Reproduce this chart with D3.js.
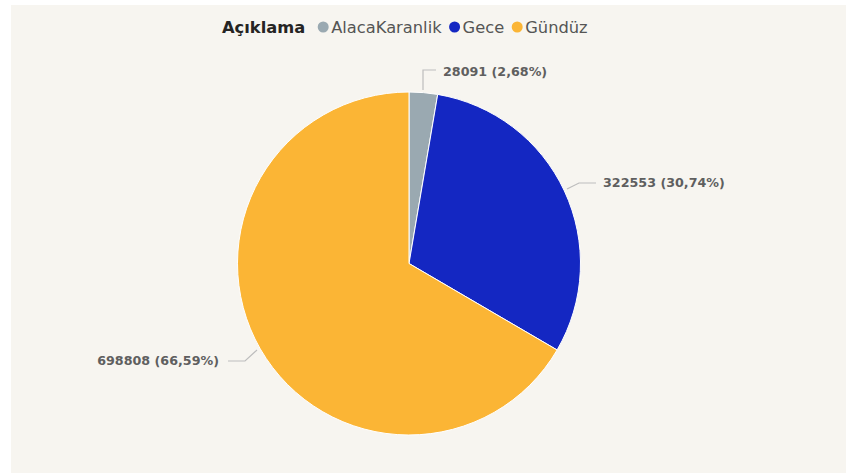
<!DOCTYPE html>
<html>
<head>
<meta charset="utf-8">
<script src="https://cdn.jsdelivr.net/npm/d3@7"></script>
<style>
  html, body { margin: 0; padding: 0; background: #ffffff; }
  svg { display: block; }
</style>
</head>
<body>
<svg id="chart" width="846" height="473"></svg>
<script>
// Data
const categories = ["AlacaKaranlik", "Gece", "Gündüz"];
const values = [28091, 322553, 698808];
const colors = ["#9aa9b1", "#1427c2", "#fbb535"];
const legendTitle = "Açıklama";

const W = 846, H = 473;
const svg = d3.select("#chart");
const font = "'DejaVu Sans', Verdana, sans-serif";

// panel background
svg.append("rect").attr("x", 11).attr("y", 5).attr("width", W - 11).attr("height", H - 5)
  .attr("fill", "#f7f5f0");

const cx = 409, cy = 263.5, r = 171.5;
const total = d3.sum(values);
const fmtPct = v => (v / total * 100).toFixed(2).replace(".", ",") + "%";

const pie = d3.pie().sort(null).value(d => d.value);
const arcs = pie(categories.map((c, i) => ({ cat: c, value: values[i], color: colors[i] })));
const arc = d3.arc().innerRadius(0).outerRadius(r);

const g = svg.append("g").attr("transform", `translate(${cx},${cy})`);
g.selectAll("path").data(arcs).join("path")
  .attr("d", arc)
  .attr("fill", d => d.data.color)
  .attr("stroke", "#ffffff")
  .attr("stroke-width", 1);

// leader lines and labels
const labelPos = [
  { pts: [[423, 90], [423, 70], [436, 70]], tx: 443, ty: 72, anchor: "start" },
  { pts: [[567, 189], [579, 183], [596, 183]], tx: 603, ty: 183, anchor: "start" },
  { pts: [[257, 350], [245, 361], [228, 361]], tx: 219, ty: 361, anchor: "end" }
];
arcs.forEach((d, i) => {
  const lp = labelPos[i];
  svg.append("path")
    .attr("d", d3.line()(lp.pts))
    .attr("fill", "none").attr("stroke", "#bdbdbd").attr("stroke-width", 1.2);
  svg.append("text")
    .attr("x", lp.tx).attr("y", lp.ty)
    .attr("dy", "0.35em")
    .attr("text-anchor", lp.anchor)
    .attr("font-family", font).attr("font-size", 12.7).attr("font-weight", "bold")
    .attr("fill", "#5f5f5f")
    .text(`${d.data.value} (${fmtPct(d.data.value)})`);
});

// legend
const lg = svg.append("g").attr("font-family", font).attr("font-size", 16.3);
const title = lg.append("text").attr("x", 222).attr("y", 27).attr("dy", "0.35em")
  .attr("font-weight", "bold").attr("fill", "#252423").text(legendTitle);
let x = 222 + title.node().getComputedTextLength() + 13;
categories.forEach((c, i) => {
  lg.append("circle").attr("cx", x + 5).attr("cy", 27).attr("r", 5.5).attr("fill", colors[i]);
  const t = lg.append("text").attr("x", x + 13).attr("y", 27).attr("dy", "0.35em")
    .attr("fill", "#555555").text(c);
  x += 13 + t.node().getComputedTextLength() + 8;
});
</script>
</body>
</html>
